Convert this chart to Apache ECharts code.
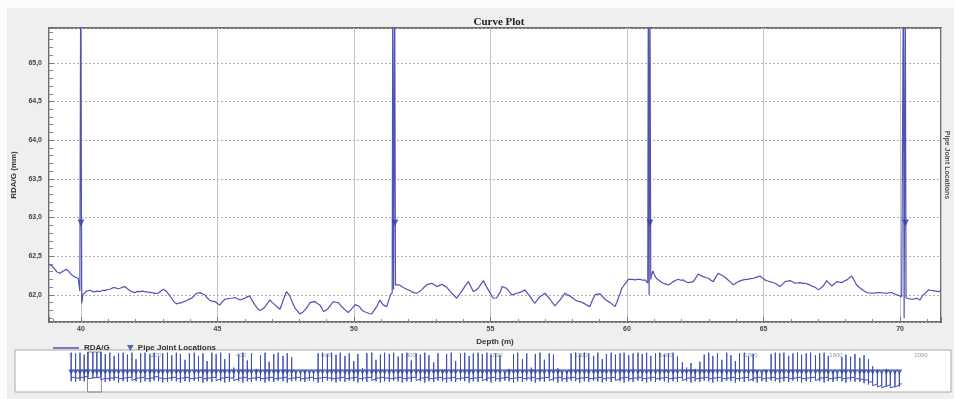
<!DOCTYPE html>
<html>
<head>
<meta charset="utf-8">
<script src="https://cdn.jsdelivr.net/npm/echarts@6/dist/echarts.min.js"></script>
<style>
  html, body { margin: 0; padding: 0; background: #ffffff; }
  #chart { width: 954px; height: 399px; }
</style>
</head>
<body>
<div id="chart"></div>
<script>
// RDA/G caliper log, depth (m) vs reading (mm), for the displayed window
const rdagCurve = [
  [38.83,62.39],[38.92,62.38],[38.99,62.36],[39.05,62.33],[39.11,62.30],[39.17,62.29],[39.23,62.28],
  [39.29,62.30],[39.35,62.31],[39.42,62.32],[39.48,62.33],[39.56,62.30],[39.61,62.28],[39.66,62.26],
  [39.72,62.24],[39.78,62.23],[39.85,62.22],[39.90,62.215],[39.93,62.21],[39.96,62.05],
  [39.99,66.0],[40.01,66.0],[40.03,61.89],[40.07,62.0],[40.12,62.02],[40.20,62.05],[40.27,62.04],
  [40.33,62.06],[40.39,62.065],[40.45,62.04],[40.51,62.03],[40.60,62.05],[40.70,62.043],[40.79,62.06],
  [40.88,62.056],[40.97,62.07],[41.06,62.073],[41.15,62.09],[41.25,62.095],[41.34,62.08],[41.43,62.086],
  [41.52,62.10],[41.61,62.108],[41.70,62.08],[41.79,62.056],[41.88,62.04],[41.98,62.03],[42.07,62.045],
  [42.16,62.043],[42.25,62.05],[42.34,62.043],[42.46,62.035],[42.59,62.03],[42.71,62.02],[42.83,62.022],
  [42.93,62.05],[43.02,62.073],[43.08,62.06],[43.14,62.043],[43.23,62.0],[43.32,61.957],[43.41,61.91],
  [43.50,61.884],[43.60,61.895],[43.69,61.901],[43.78,61.915],[43.87,61.927],[43.96,61.945],[44.05,61.957],
  [44.15,61.99],[44.24,62.022],[44.30,62.035],[44.36,62.03],[44.45,62.015],[44.54,62.0],[44.63,61.96],
  [44.73,61.927],[44.82,61.92],[44.91,61.914],[45.00,61.89],[45.09,61.871],[45.18,61.91],[45.27,61.944],
  [45.36,61.95],[45.45,61.957],[45.55,61.96],[45.64,61.966],[45.73,61.95],[45.82,61.935],[45.91,61.945],
  [46.00,61.957],[46.09,61.975],[46.18,61.987],[46.27,61.93],[46.37,61.871],[46.46,61.83],[46.55,61.798],
  [46.64,61.815],[46.73,61.841],[46.83,61.89],[46.92,61.935],[47.01,61.90],[47.11,61.871],[47.20,61.84],
  [47.29,61.815],[47.35,61.87],[47.41,61.935],[47.47,61.99],[47.53,62.043],[47.60,62.01],[47.66,61.978],
  [47.75,61.90],[47.84,61.828],[47.93,61.79],[48.02,61.755],[48.12,61.775],[48.21,61.806],[48.30,61.85],
  [48.39,61.901],[48.48,61.91],[48.57,61.914],[48.66,61.89],[48.75,61.871],[48.82,61.83],[48.88,61.785],
  [48.97,61.80],[49.06,61.828],[49.15,61.87],[49.24,61.914],[49.33,61.905],[49.43,61.901],[49.52,61.86],
  [49.61,61.828],[49.70,61.80],[49.79,61.772],[49.89,61.81],[49.98,61.849],[50.05,61.875],[50.12,61.892],
  [50.20,61.85],[50.28,61.806],[50.37,61.785],[50.46,61.772],[50.55,61.76],[50.65,61.755],[50.74,61.80],
  [50.83,61.849],[50.89,61.89],[50.95,61.935],[51.01,61.90],[51.07,61.871],[51.14,61.86],[51.20,61.849],
  [51.27,61.93],[51.34,62.0],[51.40,62.03],[51.42,66.0],[51.45,62.07],[51.49,66.0],[51.52,62.13],
  [51.56,62.151],[51.65,62.13],[51.75,62.108],[51.84,62.09],[51.93,62.073],[52.02,62.06],[52.11,62.043],
  [52.20,62.03],[52.30,62.022],[52.39,62.04],[52.48,62.065],[52.57,62.10],[52.66,62.129],[52.75,62.14],
  [52.85,62.151],[52.94,62.13],[53.03,62.108],[53.12,62.12],[53.21,62.138],[53.30,62.12],[53.40,62.099],
  [53.49,62.06],[53.58,62.022],[53.67,61.99],[53.76,61.957],[53.85,62.0],[53.94,62.043],[54.06,62.11],
  [54.19,62.172],[54.28,62.11],[54.37,62.043],[54.46,62.06],[54.55,62.086],[54.65,62.14],[54.74,62.185],
  [54.83,62.12],[54.92,62.065],[55.01,62.01],[55.10,61.957],[55.16,61.944],[55.22,61.96],[55.29,61.978],
  [55.36,62.04],[55.43,62.108],[55.51,62.095],[55.59,62.086],[55.69,62.04],[55.78,62.0],[55.87,62.01],
  [55.96,62.022],[56.05,62.03],[56.14,62.043],[56.20,62.055],[56.26,62.065],[56.36,62.02],[56.45,61.978],
  [56.54,61.93],[56.63,61.892],[56.72,61.94],[56.81,61.978],[56.91,62.0],[57.00,62.022],[57.09,61.98],
  [57.18,61.944],[57.27,61.90],[57.36,61.858],[57.46,61.90],[57.55,61.935],[57.64,61.98],[57.73,62.022],
  [57.82,62.0],[57.91,61.987],[58.01,61.96],[58.10,61.935],[58.19,61.92],[58.28,61.914],[58.37,61.90],
  [58.46,61.884],[58.55,61.865],[58.64,61.849],[58.73,61.93],[58.83,62.0],[58.92,62.01],[59.01,62.013],
  [59.10,61.98],[59.19,61.944],[59.29,61.92],[59.38,61.901],[59.47,61.875],[59.56,61.849],[59.62,61.90],
  [59.68,61.957],[59.75,62.02],[59.81,62.086],[59.90,62.13],[59.99,62.172],[60.05,62.20],[60.11,62.215],
  [60.20,62.20],[60.29,62.194],[60.38,62.20],[60.48,62.202],[60.57,62.19],[60.66,62.194],[60.71,62.17],
  [60.76,62.151],[60.78,66.0],[60.81,62.0],[60.84,66.0],[60.87,62.2],[60.90,62.258],[60.95,62.31],
  [61.03,62.24],[61.09,62.21],[61.15,62.194],[61.24,62.17],[61.33,62.151],[61.42,62.14],[61.52,62.129],
  [61.61,62.15],[61.70,62.172],[61.79,62.19],[61.88,62.202],[61.97,62.19],[62.06,62.194],[62.15,62.17],
  [62.25,62.159],[62.34,62.165],[62.43,62.172],[62.52,62.22],[62.61,62.271],[62.70,62.25],[62.79,62.237],
  [62.88,62.225],[62.98,62.215],[63.07,62.19],[63.16,62.172],[63.25,62.23],[63.34,62.280],[63.44,62.26],
  [63.53,62.245],[63.59,62.237],[63.68,62.20],[63.77,62.172],[63.83,62.15],[63.89,62.129],[63.98,62.15],
  [64.08,62.172],[64.17,62.185],[64.26,62.194],[64.35,62.20],[64.44,62.202],[64.53,62.21],[64.63,62.215],
  [64.75,62.23],[64.87,62.245],[64.96,62.22],[65.05,62.194],[65.15,62.18],[65.24,62.172],[65.33,62.16],
  [65.42,62.151],[65.51,62.13],[65.60,62.108],[65.70,62.14],[65.79,62.172],[65.88,62.18],[65.97,62.185],
  [66.06,62.17],[66.15,62.151],[66.25,62.155],[66.34,62.159],[66.43,62.15],[66.52,62.151],[66.61,62.14],
  [66.70,62.129],[66.80,62.11],[66.89,62.099],[66.95,62.08],[67.01,62.065],[67.10,62.09],[67.19,62.116],
  [67.25,62.15],[67.31,62.185],[67.41,62.15],[67.50,62.116],[67.59,62.14],[67.68,62.172],[67.77,62.165],
  [67.86,62.159],[67.96,62.18],[68.05,62.194],[68.14,62.22],[68.23,62.245],[68.32,62.19],[68.41,62.129],
  [68.50,62.10],[68.60,62.073],[68.69,62.05],[68.78,62.030],[68.90,62.025],[69.02,62.022],[69.15,62.03],
  [69.27,62.030],[69.39,62.025],[69.51,62.022],[69.60,62.028],[69.70,62.030],[69.79,62.015],[69.88,62.0],
  [69.97,61.99],[70.06,61.978],[70.12,66.0],[70.15,61.70],[70.19,66.0],[70.22,61.96],[70.25,61.957],
  [70.34,61.95],[70.43,61.944],[70.52,61.95],[70.61,61.957],[70.67,61.945],[70.73,61.935],[70.79,61.97],
  [70.85,62.0],[70.95,62.03],[71.04,62.065],[71.13,62.06],[71.22,62.056],[71.31,62.05],[71.40,62.043],
  [71.50,62.052]
];

// Pipe joint depths in the displayed window, and the marker level
const jointDepths = [40.0, 51.5, 60.84, 70.2];
const jointLevel = 62.93;

// Whole-run overview: one row per joint -> [depth, spike top, spike bottom, level after joint]
const ovStart = [0, 62.1];
const ovEnd = [1955, 61.2];
const ovJoints = [
  [0.5,65.9,61.5,62.1],[10.8,65.8,61.4,62.0],[21.2,65.9,61.6,62.1],[31.0,65.6,61.5,62.2],
  [40.0,66.0,61.89,62.0],[51.5,66.0,62.0,62.1],[60.84,66.0,62.0,62.2],[70.2,66.0,61.7,62.0],
  [80.6,65.7,61.4,61.9],[91.3,65.9,61.5,62.0],[101.5,65.4,61.6,62.1],[111.9,65.8,61.3,61.9],
  [122.7,65.9,61.5,62.0],[132.8,65.6,61.4,62.1],[143.4,65.9,61.6,61.9],[153.0,64.9,61.5,62.0],
  [163.9,65.8,61.3,62.1],[174.2,65.9,61.5,61.9],[185.7,65.7,61.4,62.0],[195.6,65.9,61.6,62.2],
  [206.0,65.3,61.5,62.0],[215.8,65.8,61.3,61.9],[227.0,65.9,61.4,62.0],[237.1,65.5,61.6,62.1],
  [247.8,65.9,61.5,61.9],[257.4,65.7,61.3,62.0],[268.3,64.8,61.5,62.1],[278.6,65.8,61.4,61.9],
  [290.1,65.9,61.6,62.0],[300.0,65.4,61.5,62.1],[310.4,65.8,61.3,61.9],[320.2,64.6,61.5,62.0],
  [331.4,65.9,61.4,62.1],[341.5,65.7,61.6,61.9],[352.2,65.9,61.5,62.0],[361.8,64.9,61.3,62.1],
  [372.7,65.8,61.4,62.0],[383.0,63.6,61.6,61.9],[394.5,65.6,61.5,62.0],[404.4,65.9,61.3,62.1],
  [414.8,64.7,61.5,61.9],[424.6,65.8,61.4,62.0],[435.8,63.4,61.6,62.1],[445.9,65.5,61.5,61.9],
  [456.6,65.9,61.3,62.0],[466.2,64.5,61.5,62.1],[477.1,65.7,61.4,61.9],[487.4,65.9,61.6,62.0],
  [498.9,65.4,61.5,62.1],[508.8,65.8,61.3,61.9],[519.2,65.2,61.5,62.0],[529.0,62.9,61.6,62.1],
  [540.2,62.9,61.5,61.9],[550.3,63.2,61.4,62.0],[561.0,62.9,61.6,62.1],[570.6,63.0,61.5,61.9],
  [581.5,65.8,61.3,62.0],[591.8,65.9,61.4,62.1],[603.3,65.7,61.6,62.0],[613.2,65.9,61.5,61.9],
  [623.6,65.6,61.3,62.0],[633.4,65.9,61.5,62.1],[644.6,65.4,61.4,61.9],[654.7,65.8,61.6,62.0],
  [665.4,64.6,61.5,62.1],[675.0,65.7,61.3,61.9],[685.9,63.5,61.5,62.0],[696.2,65.8,61.4,62.1],
  [707.7,65.9,61.6,61.9],[717.6,64.8,61.5,62.0],[728.0,65.6,61.3,62.1],[737.8,65.9,61.5,62.0],
  [749.0,65.7,61.4,61.9],[759.1,65.9,61.6,62.0],[769.8,65.3,61.5,62.1],[779.4,65.8,61.3,61.9],
  [790.3,65.9,61.5,62.0],[800.6,64.7,61.4,62.1],[812.1,65.8,61.6,61.9],[822.0,65.6,61.5,62.0],
  [832.4,65.9,61.3,62.1],[842.2,65.5,61.5,61.9],[853.4,64.4,61.4,62.0],[863.5,65.8,61.6,62.1],
  [874.2,63.3,61.5,61.9],[883.8,65.7,61.3,62.0],[894.7,65.9,61.5,62.1],[905.0,64.6,61.4,61.9],
  [916.5,65.8,61.6,62.0],[926.4,65.9,61.5,62.1],[936.8,65.4,61.3,61.9],[946.6,65.8,61.5,62.0],
  [957.8,65.9,61.4,62.1],[967.9,65.7,61.6,61.9],[978.6,65.9,61.5,62.0],[988.2,65.6,61.3,62.1],
  [999.1,65.8,61.5,61.9],[1009.4,65.5,61.4,62.0],[1020.9,62.9,61.6,62.1],[1030.8,63.4,61.5,61.9],
  [1041.2,65.7,61.3,62.0],[1051.0,65.9,61.5,62.1],[1062.2,64.9,61.4,61.9],[1072.3,65.8,61.6,62.0],
  [1083.0,63.6,61.5,62.1],[1092.6,65.7,61.3,61.9],[1103.5,65.9,61.5,62.0],[1113.8,64.8,61.4,62.1],
  [1125.3,65.8,61.6,61.9],[1135.2,65.6,61.5,62.0],[1145.6,63.5,61.3,62.1],[1155.4,62.9,61.5,61.9],
  [1166.6,63.1,61.4,62.0],[1176.7,65.8,61.6,62.1],[1187.4,65.9,61.5,61.9],[1197.0,65.7,61.3,62.0],
  [1207.9,65.9,61.5,62.1],[1218.2,65.8,61.4,61.9],[1229.7,65.4,61.6,62.0],[1239.6,65.9,61.5,62.1],
  [1250.0,64.9,61.3,61.9],[1259.8,65.7,61.5,62.0],[1271.0,65.9,61.4,62.1],[1281.1,65.6,61.6,61.9],
  [1291.8,65.8,61.5,62.0],[1301.4,65.9,61.3,62.1],[1312.3,65.5,61.5,61.9],[1322.6,65.8,61.4,62.0],
  [1334.1,65.9,61.6,62.1],[1344.0,65.7,61.5,61.9],[1354.4,65.9,61.3,62.0],[1364.2,65.4,61.5,62.1],
  [1375.4,65.8,61.4,61.9],[1385.5,65.9,61.6,62.0],[1396.2,65.6,61.5,62.1],[1405.8,65.8,61.3,61.9],
  [1416.7,65.9,61.5,62.0],[1427.0,65.3,61.4,62.1],[1438.5,64.4,61.6,61.9],[1448.4,63.6,61.5,62.0],
  [1458.8,64.3,61.3,62.1],[1468.6,63.4,61.5,61.9],[1479.8,64.5,61.4,62.0],[1489.9,65.6,61.6,62.1],
  [1500.6,65.9,61.5,61.9],[1510.2,65.4,61.3,62.0],[1521.1,65.8,61.5,62.1],[1531.4,64.8,61.4,61.9],
  [1542.9,65.9,61.6,62.0],[1552.8,65.5,61.5,62.1],[1563.2,64.6,61.3,61.9],[1573.0,65.8,61.5,62.0],
  [1584.2,65.9,61.4,62.1],[1594.3,65.3,61.6,61.9],[1605.0,65.7,61.5,62.0],[1614.6,63.2,61.3,62.1],
  [1625.5,62.9,61.5,61.9],[1635.8,63.3,61.4,62.0],[1647.3,65.7,61.6,62.1],[1657.2,65.9,61.5,61.9],
  [1667.6,65.8,61.3,62.0],[1677.4,65.9,61.5,62.1],[1688.6,65.4,61.4,61.9],[1698.7,65.8,61.6,62.0],
  [1709.4,65.9,61.5,62.1],[1719.0,65.6,61.3,61.9],[1729.9,65.8,61.5,62.0],[1740.2,65.9,61.4,62.1],
  [1751.7,65.5,61.6,61.9],[1761.6,65.8,61.5,62.0],[1772.0,65.9,61.3,62.1],[1781.8,65.4,61.5,61.9],
  [1793.0,63.1,61.4,62.0],[1803.1,62.9,61.6,62.1],[1813.8,65.2,61.5,61.9],[1823.4,65.6,61.3,62.0],
  [1834.3,65.3,61.5,62.1],[1844.6,65.7,61.4,61.9],[1856.1,65.1,61.4,61.8],[1866.0,65.5,61.2,61.7],
  [1876.4,64.9,61.0,61.4],[1886.2,63.8,60.8,61.1],[1897.4,63.3,60.6,60.9],[1907.5,62.9,60.5,60.8],
  [1918.2,63.4,60.7,61.0],[1927.8,62.9,60.5,60.7],[1938.7,63.0,60.6,60.9],[1949.0,62.9,60.7,61.1]
];

// Window currently shown in the main plot (m), and the overview's value range
const viewRange = [38.83, 71.5];
const ovValueRange = [59.85, 66.0];

// Overview trace: flat level between joints, vertical spike at each joint
const ovLine = [ovStart];
let prevLevel = ovStart[1];
for (const [d, top, bottom, level] of ovJoints) {
  ovLine.push([d, prevLevel], [d, top], [d, bottom], [d, level]);
  prevLevel = level;
}
ovLine.push([ovEnd[0], prevLevel], ovEnd);
const ovMarkers = ovJoints.map(r => [r[0], jointLevel]);

const curveColor = '#5052b4';
const jointColor = '#2f45a8';
const labelFont = 'Liberation Sans';

const chart = echarts.init(document.getElementById('chart'), null, { renderer: 'canvas' });

chart.setOption({
  animation: false,
  backgroundColor: '#efefef',
  title: {
    text: 'Curve Plot',
    left: 494, top: 12, textAlign: 'center',
    textStyle: { fontFamily: 'Liberation Serif', fontSize: 11, fontWeight: 'bold', color: '#222' }
  },
  legend: [
    {
      data: [{ name: 'RDA/G', icon: 'rect' }], left: 48, top: 339, itemWidth: 26, itemHeight: 1.5,
      itemStyle: { color: curveColor },
      textStyle: { fontFamily: labelFont, fontSize: 8, fontWeight: 'bold', color: '#333' }
    },
    {
      data: [{ name: 'Pipe Joint Locations', icon: 'path://M0,0 L10,0 L5,9 Z' }],
      left: 122, top: 339, itemWidth: 7, itemHeight: 6, itemGap: 4,
      textStyle: { fontFamily: labelFont, fontSize: 8, fontWeight: 'bold', color: '#333', padding: [0, 0, 0, -1] }
    }
  ],
  graphic: [
    { type: 'rect', z: -10, silent: true, shape: { x: 0, y: 0, width: 954, height: 8 }, style: { fill: '#fbfbfb' } },
    { type: 'rect', z: -10, silent: true, shape: { x: 0, y: 0, width: 7, height: 399 }, style: { fill: '#fbfbfb' } },
    { type: 'rect', z: 0, silent: true, shape: { x: 15, y: 350, width: 936, height: 42 },
      style: { fill: '#ffffff', stroke: '#a9a9a9', lineWidth: 1 } },
    { type: 'text', silent: true, x: 950, y: 165, rotation: -Math.PI / 2,
      style: { text: 'Pipe Joint Locations', fontFamily: labelFont, fontSize: 7, fontWeight: 'bold',
               fill: '#555', align: 'center', verticalAlign: 'top' } }
  ],
  grid: [
    { left: 49, right: 13, top: 28, bottom: 77, show: true, backgroundColor: '#ffffff',
      borderColor: '#6e6e6e', borderWidth: 2, containLabel: false },
    { left: 71, right: 33, top: 352, bottom: 7, containLabel: false }
  ],
  xAxis: [
    {
      gridIndex: 0, type: 'value', min: viewRange[0], max: viewRange[1], splitNumber: 7,
      name: 'Depth (m)', nameLocation: 'middle', nameGap: 9,
      nameTextStyle: { fontFamily: labelFont, fontSize: 8, fontWeight: 'bold', color: '#333' },
      axisLine: { show: false },
      axisTick: { show: true, inside: true, length: 5, lineStyle: { color: '#777' } },
      minorTick: { show: true, splitNumber: 5, length: 3, lineStyle: { color: '#888' } },
      axisLabel: { fontFamily: labelFont, fontSize: 7, fontWeight: 'bold', color: '#444', margin: 4,
                   showMinLabel: false, showMaxLabel: false },
      splitLine: { show: true, lineStyle: { color: '#c4c4c4', width: 1 } }
    },
    {
      gridIndex: 1, type: 'value', min: 0, max: 2000, interval: 200, position: 'top',
      axisLine: { show: false }, axisTick: { show: false }, splitLine: { show: false },
      axisLabel: { inside: true, margin: 0, fontFamily: labelFont, fontSize: 6, color: '#9a9a9a',
                   formatter: v => String(Math.round(v)) }
    }
  ],
  yAxis: [
    {
      gridIndex: 0, type: 'value', min: 61.65, max: 65.45, splitNumber: 8,
      name: 'RDA/G (mm)', nameLocation: 'middle', nameGap: 26, nameRotate: 90,
      nameTextStyle: { fontFamily: labelFont, fontSize: 8, fontWeight: 'bold', color: '#333' },
      axisLine: { show: false },
      axisTick: { show: true, inside: true, length: 5, lineStyle: { color: '#777' } },
      minorTick: { show: true, splitNumber: 5, length: 4, lineStyle: { color: '#888' } },
      axisLabel: { fontFamily: labelFont, fontSize: 7, fontWeight: 'bold', color: '#444', margin: 7,
                   showMinLabel: false, showMaxLabel: false,
                   formatter: v => v.toFixed(1).replace('.', ',') },
      splitLine: { show: true, lineStyle: { color: '#b0b0b0', type: [2, 2], width: 1 } }
    },
    { gridIndex: 1, type: 'value', min: ovValueRange[0], max: ovValueRange[1], show: false }
  ],
  series: [
    {
      name: 'RDA/G', type: 'line', xAxisIndex: 0, yAxisIndex: 0, data: rdagCurve,
      showSymbol: false, symbol: 'none', clip: true,
      lineStyle: { color: curveColor, width: 1.2 }, itemStyle: { color: curveColor }, z: 3
    },
    {
      name: 'Pipe Joint Locations', type: 'scatter', xAxisIndex: 0, yAxisIndex: 0,
      data: jointDepths.map(d => [d, jointLevel]),
      symbol: 'triangle', symbolRotate: 180, symbolSize: [7, 7],
      itemStyle: { color: jointColor }, z: 4
    },
    {
      name: 'overview', type: 'line', xAxisIndex: 1, yAxisIndex: 1, data: ovLine,
      showSymbol: false, symbol: 'none', clip: true,
      lineStyle: { color: '#3d4fb2', width: 1 }, z: 3,
      markArea: {
        silent: true, z: 1,
        itemStyle: { color: 'none', opacity: 1, borderColor: '#8c8c8c', borderWidth: 1 },
        data: [[
          { coord: [viewRange[0], ovValueRange[1]] },
          { coord: [viewRange[1], ovValueRange[0]] }
        ]]
      }
    },
    {
      name: 'overview joints', type: 'scatter', xAxisIndex: 1, yAxisIndex: 1, data: ovMarkers,
      symbol: 'triangle', symbolRotate: 180, symbolSize: [6, 5],
      itemStyle: { color: jointColor }, z: 4
    }
  ]
});
</script>
</body>
</html>
